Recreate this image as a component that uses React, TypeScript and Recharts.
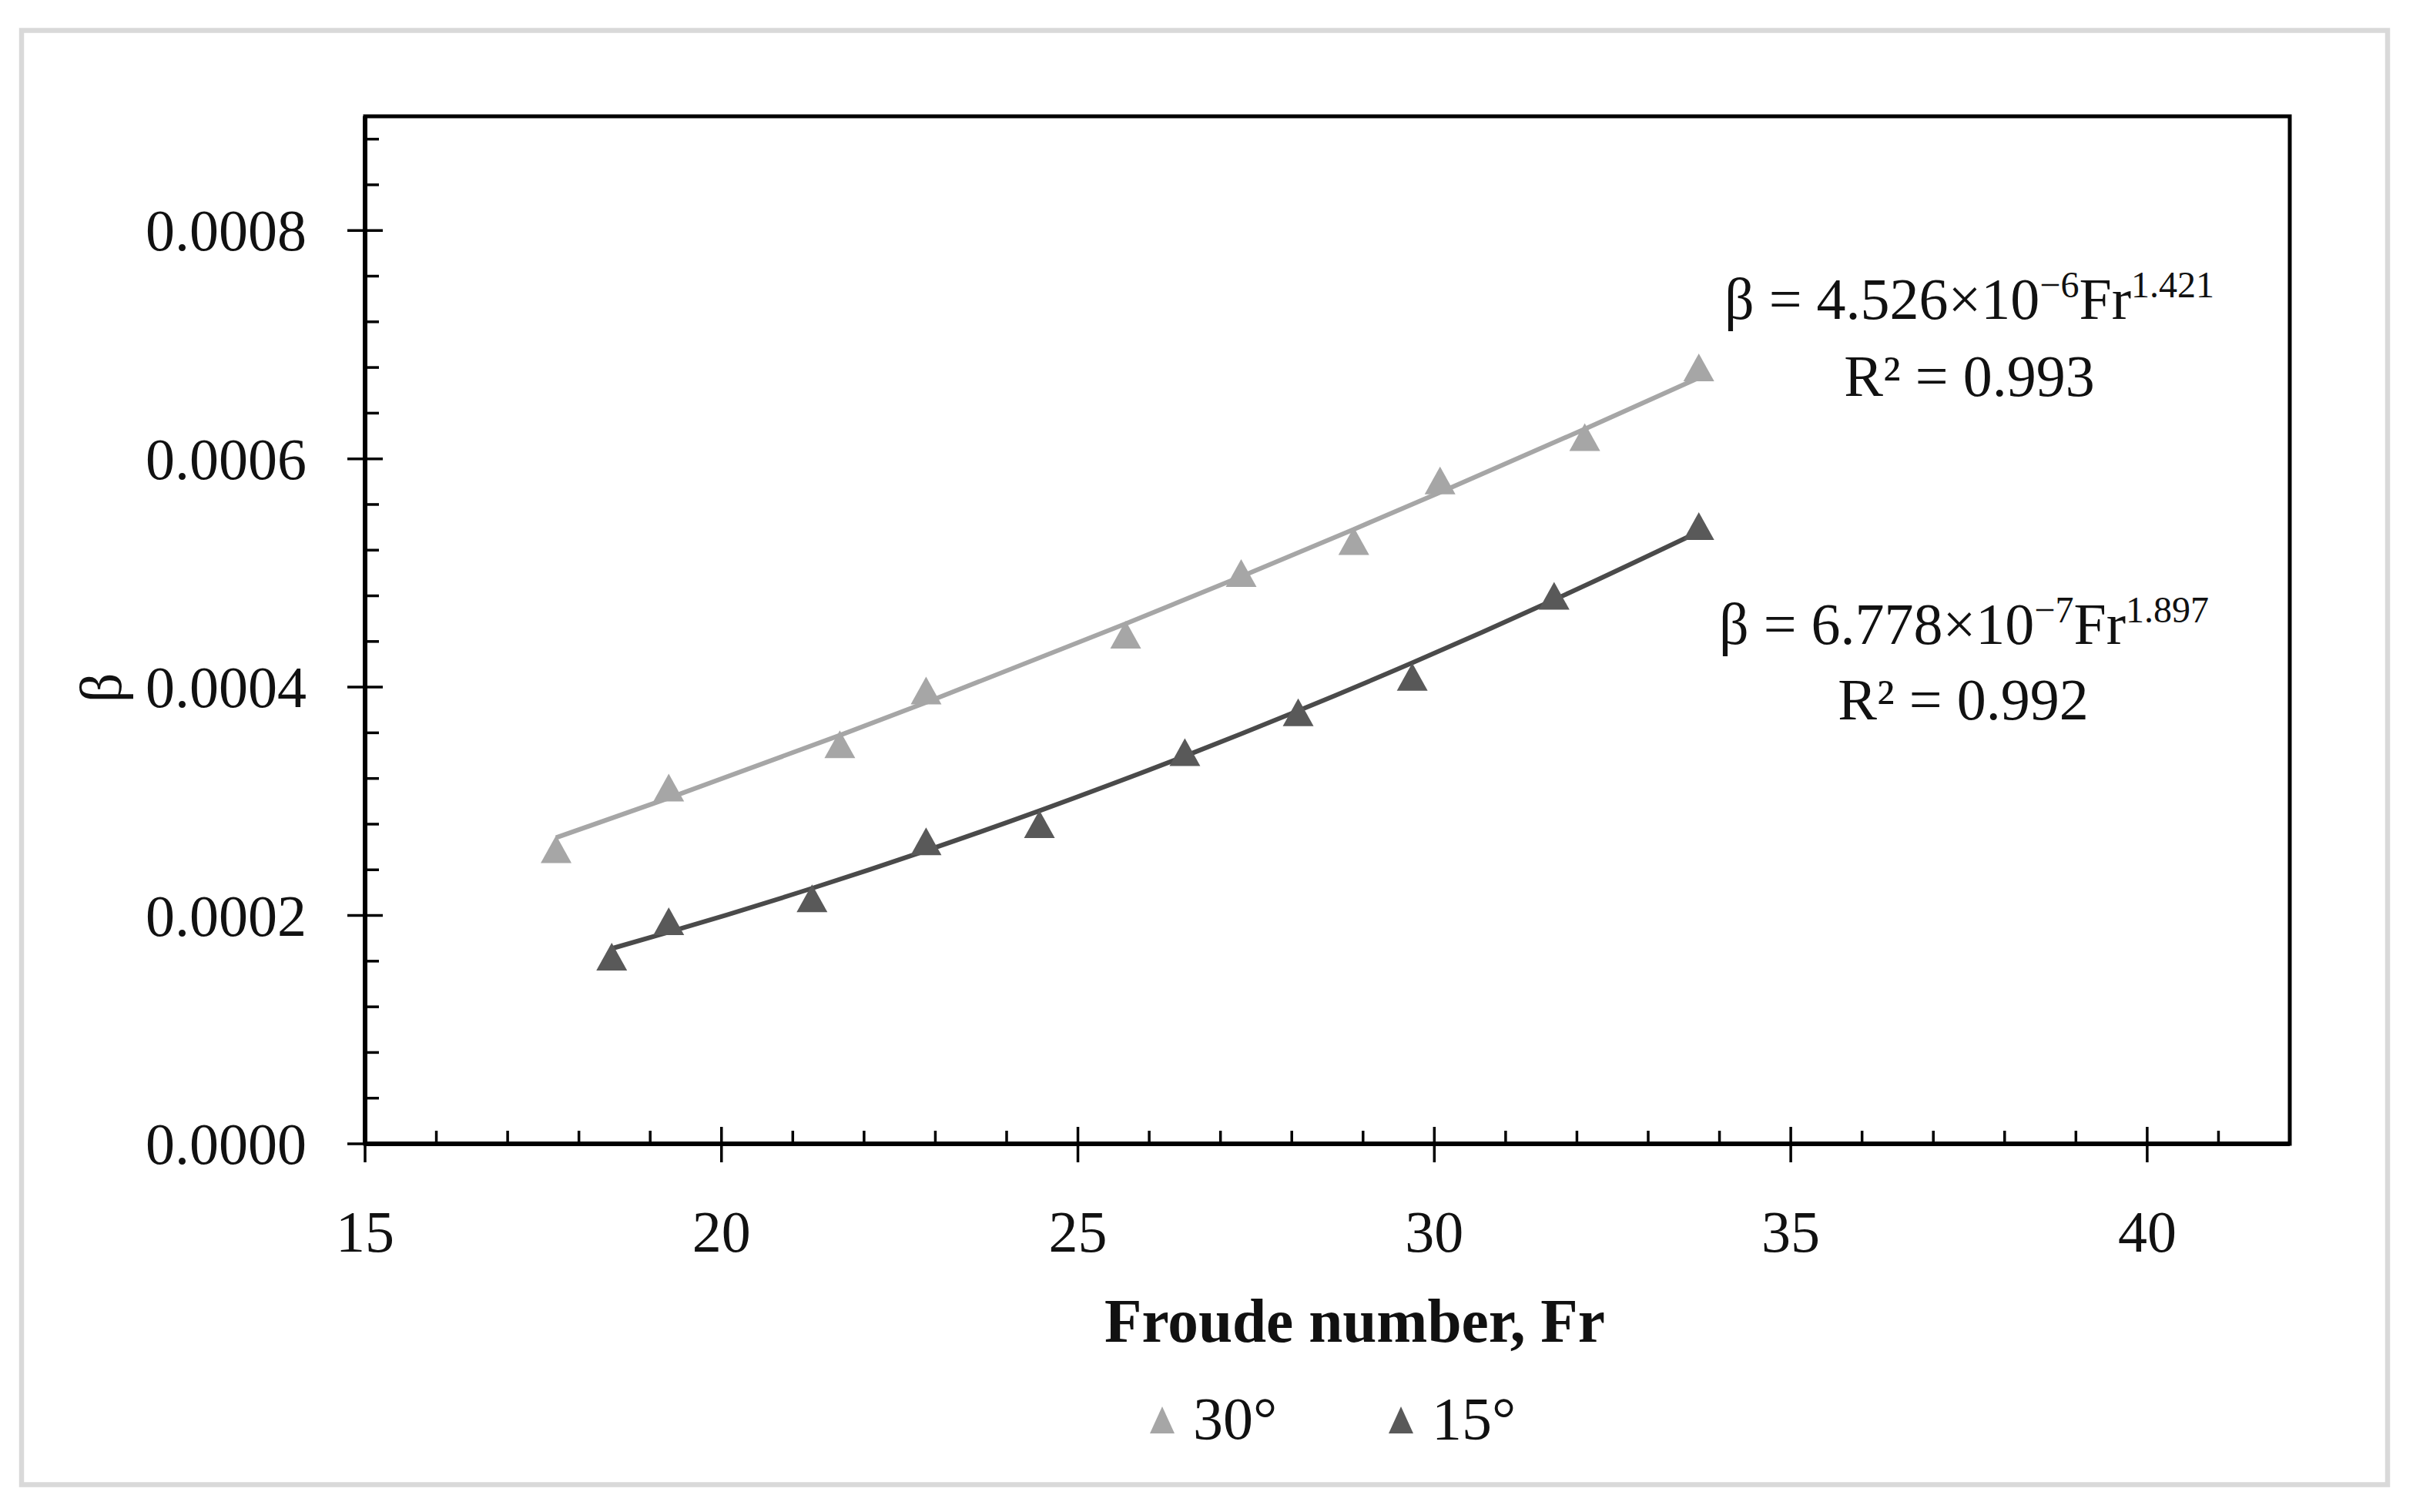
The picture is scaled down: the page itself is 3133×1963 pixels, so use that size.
import React from 'react';
import { ComposedChart, Scatter, Line, XAxis, YAxis, ReferenceArea, Legend } from 'recharts';

const W = 3133;
const H = 1963;
const FONT = '"Liberation Serif", "Times New Roman", serif';

// ---- data ----
const seriesNames = ['30°', '15°'];
const seriesColors = ['#a6a6a6', '#595959'];
const trendColors = ['#a6a6a6', '#4a4a4a'];

const fr30 = [17.68, 19.26, 21.66, 22.87, 25.67, 27.29, 28.87, 30.08, 32.11, 33.71];
const beta30 = [0.000258, 0.000312, 0.00035, 0.000397, 0.000446, 0.0005, 0.000528, 0.000581, 0.000619, 0.00068];
const fr15 = [18.46, 19.26, 21.27, 22.87, 24.46, 26.5, 28.09, 29.69, 31.68, 33.71];
const beta15 = [0.000164, 0.000195, 0.000215, 0.000265, 0.00028, 0.000343, 0.000378, 0.000409, 0.00048, 0.000541];

// power-law trendlines, coefficients printed on the chart
const fit30 = { a: 4.526e-6, b: 1.421 };
const fit15 = { a: 6.778e-7, b: 1.897 };

const xMajorTicks = [15, 20, 25, 30, 35, 40];
const xDomain = [15, 42];
const yMajorTicks = [0, 0.0002, 0.0004, 0.0006, 0.0008];
const yDomain = [0, 0.0009];
const xStepMinor = 1;
const yStepMinor = 0.00004;

const xAxisTitle = 'Froude number, Fr';
const yAxisTitle = 'β';

// ---- derived tables ----
const pts30 = fr30.map((x, i) => ({ x, y: beta30[i] }));
const pts15 = fr15.map((x, i) => ({ x, y: beta15[i] }));
const trend30 = fr30.map((x) => ({ x, y: fit30.a * Math.pow(x, fit30.b) }));
const trend15 = fr15.map((x) => ({ x, y: fit15.a * Math.pow(x, fit15.b) }));

const xTicks: number[] = [];
for (let v = xDomain[0]; v < xDomain[1] - 1e-9; v += xStepMinor) xTicks.push(v);
const yTicks: number[] = [];
for (let i = 0; i * yStepMinor < yDomain[1] - 1e-9; i++) yTicks.push(+(i * yStepMinor).toFixed(6));

const isXMajor = (v: number) => xMajorTicks.some((m) => Math.abs(m - v) < 1e-9);
const isYMajor = (v: number) => yMajorTicks.some((m) => Math.abs(m - v) < 1e-9);

const LEGEND_TOP = 1785;
const LEGEND_H = 120;
const LEGEND_W = 640;

const XTick = (props: any) => {
  const { x, y, payload } = props;
  const v = payload.value;
  const major = isXMajor(v);
  return (
    <g>
      {major ? (
        <line x1={x} x2={x} y1={y - 22} y2={y + 24} stroke="#000" strokeWidth={3.5} />
      ) : (
        <line x1={x} x2={x} y1={y} y2={y - 17} stroke="#000" strokeWidth={3.5} />
      )}
      {major && (
        <text x={x} y={y + 140} textAnchor="middle" fontFamily={FONT} fontSize={76} fill="#111">
          {v}
        </text>
      )}
    </g>
  );
};

const YTick = (props: any) => {
  const { x, y, payload } = props;
  const v = payload.value;
  const major = isYMajor(v);
  return (
    <g>
      {major ? (
        <line x1={x - 23} x2={x + 23} y1={y} y2={y} stroke="#000" strokeWidth={3.5} />
      ) : (
        <line x1={x} x2={x + 18} y1={y} y2={y} stroke="#000" strokeWidth={3.5} />
      )}
      {major && (
        <text x={x - 76} y={y + 26} textAnchor="end" fontFamily={FONT} fontSize={76} fill="#111">
          {v.toFixed(4)}
        </text>
      )}
    </g>
  );
};

const Triangle = (props: any) => {
  const { cx, cy, fill } = props;
  if (cx == null || cy == null) return null;
  const w = 40;
  const h = 36;
  return (
    <polygon
      points={`${cx},${cy - h / 2} ${cx + w / 2},${cy + h / 2} ${cx - w / 2},${cy + h / 2}`}
      fill={fill}
    />
  );
};

const LegendContent = (props: any) => {
  const payload = (props.payload || []).filter((p: any) => seriesNames.includes(p.value));
  const items = (payload.length ? payload : seriesNames.map((n) => ({ value: n })))
    .slice()
    .sort((a: any, b: any) => seriesNames.indexOf(a.value) - seriesNames.indexOf(b.value));
  const step = 310;
  const base = 1868 - LEGEND_TOP; // text baseline
  return (
    <svg width={LEGEND_W} height={LEGEND_H} style={{ display: 'block', overflow: 'visible' }}>
      {items.map((it: any, i: number) => {
        const idx = seriesNames.indexOf(it.value);
        const cx = 40 + i * step;
        const col = seriesColors[idx >= 0 ? idx : i];
        return (
          <g key={it.value}>
            <polygon
              points={`${cx},${base - 42} ${cx + 16},${base - 7} ${cx - 16},${base - 7}`}
              fill={col}
            />
            <text x={cx + 40} y={base} fontFamily={FONT} fontSize={78} fill="#111">
              {it.value}
            </text>
          </g>
        );
      })}
    </svg>
  );
};

export default function App() {
  return (
    <div style={{ position: 'absolute', left: 0, top: 0, width: W, height: H, background: '#fff' }}>
      <ComposedChart
        width={W}
        height={H}
        margin={{ top: 151, right: 160, bottom: 0, left: 0 }}
      >
        <XAxis
          type="number"
          dataKey="x"
          domain={xDomain}
          ticks={xTicks}
          interval={0}
          allowDataOverflow
          height={478 - LEGEND_H}
          tickSize={0}
          tickMargin={0}
          tickLine={false}
          axisLine={{ stroke: '#000', strokeWidth: 6 }}
          tick={<XTick />}
        />
        <YAxis
          type="number"
          dataKey="y"
          domain={yDomain}
          ticks={yTicks}
          interval={0}
          allowDataOverflow
          width={474}
          tickSize={0}
          tickMargin={0}
          tickLine={false}
          axisLine={{ stroke: '#000', strokeWidth: 6 }}
          tick={<YTick />}
        />
        <ReferenceArea
          x1={xDomain[0]}
          x2={xDomain[1]}
          y1={yDomain[0]}
          y2={yDomain[1]}
          fill="none"
          fillOpacity={0}
          stroke="#000"
          strokeWidth={5}
          ifOverflow="visible"
        />
        <Line
          data={trend30}
          dataKey="y"
          type="monotone"
          stroke={trendColors[0]}
          strokeWidth={6}
          dot={false}
          activeDot={false}
          legendType="none"
          isAnimationActive={false}
        />
        <Line
          data={trend15}
          dataKey="y"
          type="monotone"
          stroke={trendColors[1]}
          strokeWidth={6}
          dot={false}
          activeDot={false}
          legendType="none"
          isAnimationActive={false}
        />
        <Scatter
          name={seriesNames[0]}
          data={pts30}
          dataKey="y"
          fill={seriesColors[0]}
          shape={<Triangle />}
          isAnimationActive={false}
        />
        <Scatter
          name={seriesNames[1]}
          data={pts15}
          dataKey="y"
          fill={seriesColors[1]}
          shape={<Triangle />}
          isAnimationActive={false}
        />
        <Legend
          layout="vertical"
          align="center"
          verticalAlign="bottom"
          content={<LegendContent />}
          wrapperStyle={{
            position: 'absolute',
            left: 1469,
            top: LEGEND_TOP,
            width: LEGEND_W,
            height: LEGEND_H,
            overflow: 'visible',
          }}
        />
      </ComposedChart>
      <svg
        width={W}
        height={H}
        style={{ position: 'absolute', left: 0, top: 0, pointerEvents: 'none' }}
      >
        <rect x={28} y={39.5} width={3072} height={1888} fill="none" stroke="#d9d9d9" strokeWidth={6.5} />
        <text
          x={1759}
          y={1742}
          textAnchor="middle"
          fontFamily={FONT}
          fontWeight="bold"
          fontSize={80}
          fill="#111"
          textLength={650}
          lengthAdjust="spacingAndGlyphs"
        >
          {xAxisTitle}
        </text>
        <text
          x={157}
          y={893}
          textAnchor="middle"
          fontFamily={FONT}
          fontSize={76}
          fill="#111"
          transform="rotate(-90 157 893)"
        >
          {yAxisTitle}
        </text>
        <text x={2557} y={414} textAnchor="middle" fontFamily={FONT} fontSize={76} fill="#111">
          β = 4.526×10<tspan fontSize={48} dy={-28}>−6</tspan>
          <tspan dy={28}>Fr</tspan>
          <tspan fontSize={48} dy={-28}>1.421</tspan>
        </text>
        <text x={2557} y={514} textAnchor="middle" fontFamily={FONT} fontSize={76} fill="#111">
          R² = 0.993
        </text>
        <text x={2550} y={836} textAnchor="middle" fontFamily={FONT} fontSize={76} fill="#111">
          β = 6.778×10<tspan fontSize={48} dy={-28}>−7</tspan>
          <tspan dy={28}>Fr</tspan>
          <tspan fontSize={48} dy={-28}>1.897</tspan>
        </text>
        <text x={2549} y={934} textAnchor="middle" fontFamily={FONT} fontSize={76} fill="#111">
          R² = 0.992
        </text>
      </svg>
    </div>
  );
}
